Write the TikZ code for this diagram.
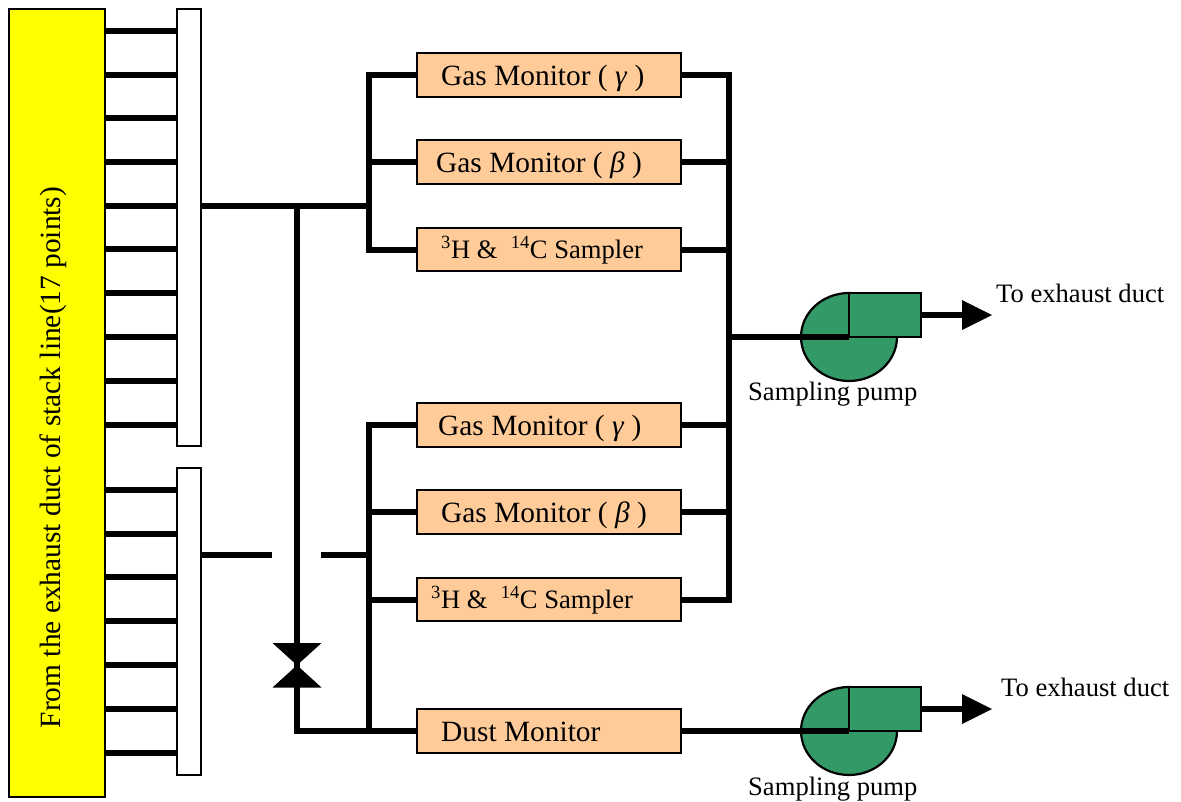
\documentclass[tikz,border=0pt]{standalone}
\usepackage{fontspec}
\setmainfont{Liberation Serif}
\usetikzlibrary{arrows.meta}
\definecolor{boxfill}{RGB}{255,204,153}
\definecolor{pumpgreen}{RGB}{51,153,102}
\definecolor{stackyellow}{RGB}{255,255,0}
\newcommand{\szA}{\fontsize{29.4}{33}\selectfont}
\newcommand{\szB}{\fontsize{26.6}{30}\selectfont}
\newcommand{\szC}{\fontsize{26.6}{30}\selectfont}
\tikzset{
  x=1pt,y=-1pt,
  panel/.style={draw=black,line width=2.2pt,anchor=north west,inner sep=0pt,outer sep=0pt},
  devbox/.style={panel,fill=boxfill,minimum width=264pt,minimum height=43.5pt,anchor=center},
  pipe/.style={line width=6pt,line cap=butt},
  lbl/.style={inner sep=0pt,anchor=base west,text=black},
  pumpbody/.style={draw=black,line width=2.2pt,fill=pumpgreen},
}
\begin{document}
\begin{tikzpicture}
\useasboundingbox (0,0) rectangle (1181,801);
\node[panel,fill=stackyellow,minimum width=96pt,minimum height=788pt] (stack) at (9,9) {};
\node[panel,fill=white,minimum width=24pt,minimum height=437pt] (hdrA) at (177,9) {};
\node[panel,fill=white,minimum width=24pt,minimum height=307pt] (hdrB) at (177,468) {};
\node[rotate=90,inner sep=0pt,text=black] (stacklbl) at (53.5,457.5) {\szA From the exhaust duct of stack line(17 points)};
\foreach \yy in {31,75,118,162,206,249,293,337,381,425}{
  \draw[pipe] (stack.east |- 0,\yy) -- (hdrA.west |- 0,\yy);}
\foreach \yy in {490,534,577,621,665,709,753}{
  \draw[pipe] (stack.east |- 0,\yy) -- (hdrB.west |- 0,\yy);}
% devices
\node[devbox] (g1) at (549,75) {};
\node[devbox] (b1) at (549,162) {};
\node[devbox] (s1) at (549,249.5) {};
\node[devbox] (g2) at (549,425) {};
\node[devbox] (b2) at (549,512) {};
\node[devbox] (s2) at (549,599.5) {};
\node[devbox] (dust) at (549,731) {};
\node[lbl] (g1t) at (441,85) {\szA Gas Monitor ( \textit{γ} )};
\node[lbl] (b1t) at (436,172) {\szA Gas Monitor ( \textit{β} )};
\node[lbl] (s1t) at (441,258) {\szC\textsuperscript{3}H \&\ \ \textsuperscript{14}C Sampler};
\node[lbl] (g2t) at (438,435) {\szA Gas Monitor ( \textit{γ} )};
\node[lbl] (b2t) at (441,522) {\szA Gas Monitor ( \textit{β} )};
\node[lbl] (s2t) at (431,608) {\szC\textsuperscript{3}H \&\ \ \textsuperscript{14}C Sampler};
\node[lbl] (dustt) at (441,741) {\szA Dust Monitor};
% junctions
\coordinate (busLt) at (369,75);
\coordinate (busLb) at (369,249.5);
\coordinate (busRt) at (729,75);
\coordinate (busRb) at (729,599.5);
\coordinate (busLlt) at (369,425);
\coordinate (busLlb) at (369,731);
\coordinate (tee) at (297,206);
\coordinate (corner) at (297,731);
\coordinate (gapL) at (272,555);
\coordinate (gapR) at (321,555);
\coordinate (pumpAc) at (849,337);
\coordinate (pumpBc) at (849,731);
% left buses
\draw[pipe] (g1.west) -- (busLt) -- (busLb) -- (s1.west);
\draw[pipe] (g2.west) -- (busLlt) -- (busLlb);
\draw[pipe] (busLt |- b1) -- (b1.west);
\draw[pipe] (busLlt |- b2) -- (b2.west);
\draw[pipe] (busLlt |- s2) -- (s2.west);
% right bus
\draw[pipe] (g1.east) -- (busRt) -- (busRb) -- (s2.east);
\draw[pipe] (b1.east) -- (busRt |- b1);
\draw[pipe] (s1.east) -- (busRt |- s1);
\draw[pipe] (g2.east) -- (busRt |- g2);
\draw[pipe] (b2.east) -- (busRt |- b2);
% main lines
\draw[pipe] (hdrA.east |- tee) -- (busLt |- tee);
\draw[pipe] (hdrB.east |- gapL) -- (gapL);
\draw[pipe] (gapR) -- (busLlt |- gapR);
% valve
\node[inner sep=0pt,minimum size=0pt] (valve) at (297,665) {};
\draw[pipe] (tee) -- (valve) -- (corner) -- (dust.west);
\fill[black] (272.5,643) -- (321.5,643) -- (272.5,687.5) -- (321.5,687.5) -- cycle;
% pump A
\draw[pumpbody] (pumpAc) ellipse [x radius=48, y radius=44];
\node[panel,fill=pumpgreen,minimum width=72pt,minimum height=44pt] (pumpA) at (849,293) {};
\draw[pipe] (busRt |- pumpAc) -- (pumpAc);
\coordinate (tipA) at (992,315);
\draw[pipe] (pumpA.east) -- (965,315);
\fill[black] (962,300) -- (tipA) -- (962,330) -- cycle;
\node[lbl] (exA) at (996,302) {\szB To exhaust duct};
\node[lbl] (spA) at (748,400) {\szB Sampling pump};
% pump B
\draw[pumpbody] (pumpBc) ellipse [x radius=48, y radius=44];
\node[panel,fill=pumpgreen,minimum width=72pt,minimum height=44pt] (pumpB) at (849,687) {};
\draw[pipe] (dust.east) -- (pumpBc);
\coordinate (tipB) at (992,709);
\draw[pipe] (pumpB.east) -- (965,709);
\fill[black] (962,694) -- (tipB) -- (962,724) -- cycle;
\node[lbl] (exB) at (1001,696) {\szB To exhaust duct};
\node[lbl] (spB) at (748,795) {\szB Sampling pump};
\end{tikzpicture}
\end{document}
